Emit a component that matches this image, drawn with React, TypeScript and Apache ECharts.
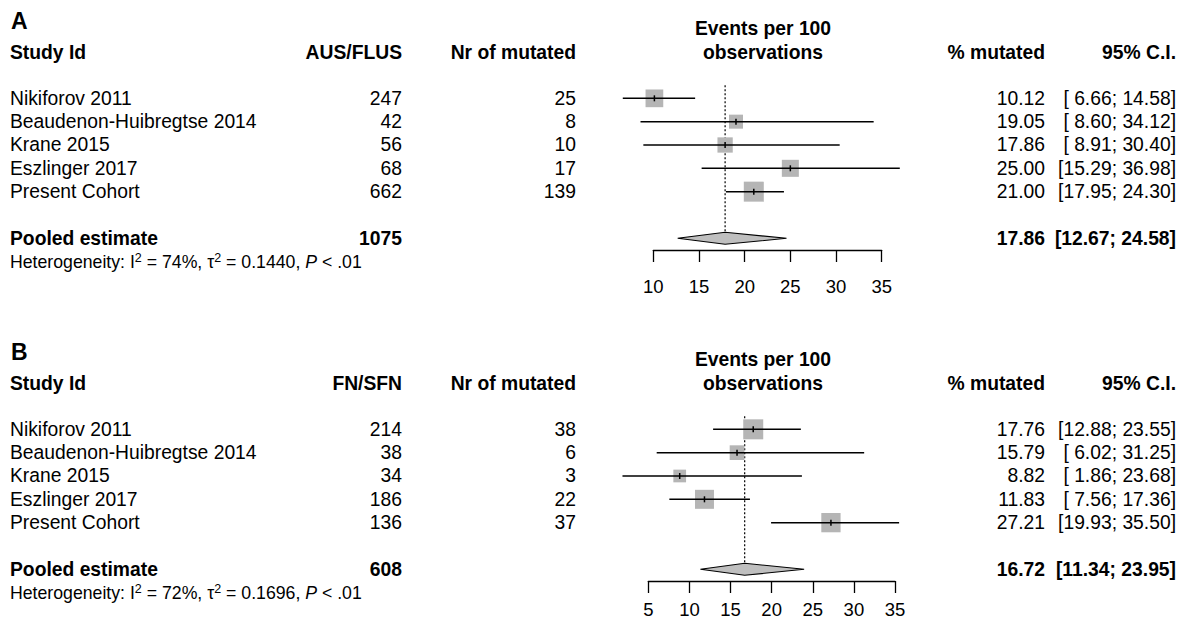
import React, { useEffect, useRef } from "react";
import * as echarts from "echarts";

const studies = ["Nikiforov 2011", "Beaudenon-Huibregtse 2014", "Krane 2015", "Eszlinger 2017", "Present Cohort"];

// Panel A: AUS/FLUS
const totalA = [247, 42, 56, 68, 662];
const mutatedA = [25, 8, 10, 17, 139];
const estA = [10.12, 19.05, 17.86, 25.0, 21.0];
const lowA = [6.66, 8.6, 8.91, 15.29, 17.95];
const highA = [14.58, 34.12, 30.4, 36.98, 24.3];
const weightA = [21.9, 13.7, 16.3, 20.2, 27.9];
const pooledA = [17.86, 12.67, 24.58];
const pooledTotalA = 1075;
const hetA = ["74%", "0.1440", "< .01"];
const ticksA = [10, 15, 20, 25, 30, 35];

// Panel B: FN/SFN
const totalB = [214, 38, 34, 186, 136];
const mutatedB = [38, 6, 3, 22, 37];
const estB = [17.76, 15.79, 8.82, 11.83, 27.21];
const lowB = [12.88, 6.02, 1.86, 7.56, 19.93];
const highB = [23.55, 31.25, 23.68, 17.36, 35.5];
const weightB = [26.5, 14.3, 10.7, 23.9, 24.6];
const pooledB = [16.72, 11.34, 23.95];
const pooledTotalB = 608;
const hetB = ["72%", "0.1696", "< .01"];
const ticksB = [5, 10, 15, 20, 25, 30, 35];

const FONT = "'Liberation Sans', Arial, Helvetica, sans-serif";
const ROW_H = 23.33;
const POOLED_ROW = 6;
const FS = 19.3;

const fmt = (v: number) => v.toFixed(2);
const fmtLow = (v: number) => (v < 10 ? " " + v.toFixed(2) : v.toFixed(2));
const ci = (lo: number, hi: number) => `[${fmtLow(lo)}; ${fmt(hi)}]`;

type Panel = {
  letter: string;
  colHeader: string;
  total: number[];
  mutated: number[];
  est: number[];
  low: number[];
  high: number[];
  weight: number[];
  pooled: number[];
  pooledTotal: number;
  het: string[];
  ticks: number[];
  row0Y: number;
  gridLeft: number;
  gridWidth: number;
  labelMargin: number;
};

const panels: Panel[] = [
  {
    letter: "A", colHeader: "AUS/FLUS", total: totalA, mutated: mutatedA, est: estA, low: lowA, high: highA,
    weight: weightA, pooled: pooledA, pooledTotal: pooledTotalA, het: hetA, ticks: ticksA,
    row0Y: 98.33, gridLeft: 653.3, gridWidth: 228.4, labelMargin: 27,
  },
  {
    letter: "B", colHeader: "FN/SFN", total: totalB, mutated: mutatedB, est: estB, low: lowB, high: highB,
    weight: weightB, pooled: pooledB, pooledTotal: pooledTotalB, het: hetB, ticks: ticksB,
    row0Y: 429.33, gridLeft: 648.3, gridWidth: 246.7, labelMargin: 19,
  },
];

function txt(text: string, x: number, y: number, align: string, opts: any = {}) {
  return {
    type: "text",
    x,
    y,
    silent: true,
    style: {
      text,
      fill: "#000",
      align,
      verticalAlign: "middle",
      fontFamily: FONT,
      fontSize: opts.fontSize || FS,
      fontWeight: opts.bold ? "bold" : "normal",
      ...(opts.rich ? { rich: opts.rich } : {}),
    },
  };
}

function buildOption() {
  const grid: any[] = [];
  const xAxis: any[] = [];
  const yAxis: any[] = [];
  const series: any[] = [];
  const graphic: any[] = [];

  panels.forEach((p, k) => {
    const top = p.row0Y - ROW_H;
    grid.push({ left: p.gridLeft, top, width: p.gridWidth, height: ROW_H * 7.5, containLabel: false });
    xAxis.push({
      type: "value",
      gridIndex: k,
      position: "bottom",
      min: p.ticks[0],
      max: p.ticks[p.ticks.length - 1],
      interval: 5,
      axisLine: { show: true, onZero: false, lineStyle: { color: "#000", width: 1.3 } },
      axisTick: { show: true, inside: false, length: 12, lineStyle: { color: "#000", width: 1.3 } },
      axisLabel: { show: true, color: "#000", fontSize: 18.5, fontFamily: FONT, margin: p.labelMargin, showMinLabel: true, showMaxLabel: true },
      splitLine: { show: false },
    });
    yAxis.push({ type: "value", gridIndex: k, min: -1, max: 6.5, inverse: true, show: false });

    const maxW = Math.max(...p.weight);

    // reference (pooled estimate) dotted line
    series.push({
      type: "custom",
      xAxisIndex: k,
      yAxisIndex: k,
      clip: false,
      z: 1,
      data: [[p.pooled[0], POOLED_ROW]],
      encode: { x: 0, y: 1 },
      renderItem: (params: any, api: any) => {
        const bottom = api.coord([api.value(0), api.value(1)]);
        const first = api.coord([api.value(0), 0]);
        return {
          type: "line",
          shape: { x1: bottom[0], y1: first[1] - 13, x2: bottom[0], y2: bottom[1] - 6 },
          style: { stroke: "#000", lineWidth: 1.2, lineDash: [2, 2] },
        };
      },
    });

    // studies: squares, CIs, point ticks
    series.push({
      type: "custom",
      xAxisIndex: k,
      yAxisIndex: k,
      clip: false,
      z: 2,
      data: studies.map((_, i) => [p.low[i], p.high[i], p.est[i], i, p.weight[i]]),
      encode: { x: [0, 1, 2], y: 3 },
      renderItem: (params: any, api: any) => {
        const lo = api.coord([api.value(0), api.value(3)]);
        const hi = api.coord([api.value(1), api.value(3)]);
        const c = api.coord([api.value(2), api.value(3)]);
        const side = 20 * Math.sqrt(api.value(4) / maxW);
        return {
          type: "group",
          children: [
            { type: "rect", shape: { x: c[0] - side / 2, y: c[1] - side / 2, width: side, height: side }, style: { fill: "#b5b5b5" } },
            { type: "line", shape: { x1: lo[0], y1: lo[1], x2: hi[0], y2: hi[1] }, style: { stroke: "#000", lineWidth: 1.5 } },
            { type: "line", shape: { x1: c[0], y1: c[1] - 3, x2: c[0], y2: c[1] + 3 }, style: { stroke: "#000", lineWidth: 1.5 } },
          ],
        };
      },
    });

    // pooled diamond
    series.push({
      type: "custom",
      xAxisIndex: k,
      yAxisIndex: k,
      clip: false,
      z: 3,
      data: [[p.pooled[1], p.pooled[2], p.pooled[0], POOLED_ROW]],
      encode: { x: [0, 1, 2], y: 3 },
      renderItem: (params: any, api: any) => {
        const lo = api.coord([api.value(0), api.value(3)]);
        const hi = api.coord([api.value(1), api.value(3)]);
        const c = api.coord([api.value(2), api.value(3)]);
        return {
          type: "polygon",
          shape: { points: [[lo[0], lo[1]], [c[0], c[1] - 6], [hi[0], hi[1]], [c[0], c[1] + 6]] },
          style: { fill: "#bfbfbf", stroke: "#000", lineWidth: 1.1 },
        };
      },
    });

    // table texts
    const y0 = p.row0Y;
    graphic.push(txt(p.letter, 11, y0 - 77, "left", { bold: true, fontSize: 23 }));
    graphic.push(txt("Events per 100", 763, y0 - 70, "center", { bold: true }));
    graphic.push(txt("Study Id", 10, y0 - 46, "left", { bold: true }));
    graphic.push(txt(p.colHeader, 402, y0 - 46, "right", { bold: true }));
    graphic.push(txt("Nr of mutated", 576, y0 - 46, "right", { bold: true }));
    graphic.push(txt("observations", 763, y0 - 46, "center", { bold: true }));
    graphic.push(txt("% mutated", 1045, y0 - 46, "right", { bold: true }));
    graphic.push(txt("95% C.I.", 1176, y0 - 46, "right", { bold: true }));

    studies.forEach((name, i) => {
      const y = y0 + i * ROW_H;
      graphic.push(txt(name, 10, y, "left"));
      graphic.push(txt(String(p.total[i]), 402, y, "right"));
      graphic.push(txt(String(p.mutated[i]), 576, y, "right"));
      graphic.push(txt(fmt(p.est[i]), 1045, y, "right"));
      graphic.push(txt(ci(p.low[i], p.high[i]), 1176, y, "right"));
    });

    const py = y0 + POOLED_ROW * ROW_H;
    graphic.push(txt("Pooled estimate", 10, py, "left", { bold: true }));
    graphic.push(txt(String(p.pooledTotal), 402, py, "right", { bold: true }));
    graphic.push(txt(fmt(p.pooled[0]), 1045, py, "right", { bold: true }));
    graphic.push(txt(ci(p.pooled[1], p.pooled[2]), 1176, py, "right", { bold: true }));

    const hs = 17.7;
    graphic.push(
      txt(
        `{n|Heterogeneity: I}{s|2}{n| = ${p.het[0]}, τ}{s|2}{n| = ${p.het[1]}, }{i|P}{n| ${p.het[2]}}`,
        10,
        py + 24,
        "left",
        {
          fontSize: hs,
          rich: {
            n: { fontSize: hs, fontFamily: FONT, fill: "#000", lineHeight: 22, verticalAlign: "middle" },
            i: { fontSize: hs, fontFamily: FONT, fill: "#000", fontStyle: "italic", lineHeight: 22, verticalAlign: "middle" },
            s: { fontSize: 12.5, fontFamily: FONT, fill: "#000", lineHeight: 10, verticalAlign: "top" },
          },
        }
      )
    );
  });

  return {
    animation: false,
    backgroundColor: "#ffffff",
    grid,
    xAxis,
    yAxis,
    series,
    graphic: { elements: graphic },
  };
}

export default function App() {
  const ref = useRef<HTMLDivElement>(null);
  useEffect(() => {
    if (!ref.current) return;
    const chart = echarts.init(ref.current, undefined, { renderer: "svg" });
    chart.setOption(buildOption() as any);
    return () => chart.dispose();
  }, []);
  return (
    <div
      ref={ref}
      style={{ position: "fixed", left: 0, top: 0, width: 1184, height: 626, background: "#fff" }}
    />
  );
}
